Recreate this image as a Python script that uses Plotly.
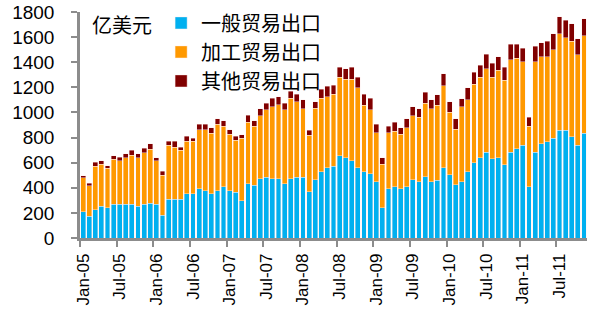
import plotly.graph_objects as go
import pandas as pd

months = pd.date_range("2005-01-01", "2011-11-01", freq="MS").strftime("%Y-%m").tolist()

general = [210, 172, 225, 252, 239, 268, 268, 268, 268, 252, 268, 276,
           268, 180, 308, 308, 308, 351, 351, 391, 377, 351, 377, 407,
           377, 364, 295, 433, 420, 473, 484, 473, 473, 433, 473, 484,
           484, 367, 465, 529, 561, 572, 657, 641, 615, 561, 527, 513,
           447, 239, 391, 407, 391, 407, 465, 449, 487, 447, 460, 561,
           505, 423, 447, 529, 599, 641, 684, 631, 641, 585, 684, 711,
           737, 407, 684, 751, 767, 793, 860, 860, 807, 737, 836]
processing = [270, 246, 347, 336, 317, 360, 347, 373, 392, 389, 413, 429,
              347, 320, 429, 416, 389, 418, 418, 472, 486, 485, 528, 485,
              448, 416, 501, 488, 472, 499, 536, 574, 587, 587, 640, 600,
              547, 453, 568, 584, 566, 573, 624, 624, 650, 635, 530, 507,
              392, 349, 448, 445, 434, 472, 510, 512, 586, 584, 597, 651,
              496, 442, 597, 571, 624, 640, 664, 650, 696, 670, 736, 722,
              667, 485, 720, 693, 677, 707, 765, 736, 762, 723, 776]
other = [15, 18, 32, 29, 19, 29, 29, 32, 37, 32, 35, 46,
         26, 32, 32, 45, 27, 40, 27, 45, 45, 43, 43, 43,
         38, 29, 27, 56, 40, 59, 53, 66, 67, 53, 56, 59,
         69, 40, 54, 72, 80, 70, 80, 83, 96, 83, 86, 93,
         66, 53, 53, 69, 54, 69, 69, 67, 86, 69, 83, 96,
         86, 83, 67, 96, 98, 94, 115, 110, 107, 104, 123, 110,
         109, 69, 125, 112, 125, 125, 136, 139, 139, 125, 136]

series_names = ["一般贸易出口", "加工贸易出口", "其他贸易出口"]
series_colors = ["#00B0F0", "#FF9900", "#800000"]
tick_labels = ["Jan-05", "Jul-05", "Jan-06", "Jul-06", "Jan-07", "Jul-07", "Jan-08",
               "Jul-08", "Jan-09", "Jul-09", "Jan-10", "Jul-10", "Jan-11", "Jul-11"]
unit_label = "亿美元"

idx = list(range(len(months)))
tick_pos = [months.index(m) for m in months if m.endswith("-01") or m.endswith("-07")]
boundary_pos = [p - 0.5 for p in tick_pos]

fig = go.Figure()
for name, vals, col in zip(series_names, [general, processing, other], series_colors):
    fig.add_trace(go.Bar(x=idx, y=vals, name=name, marker_color=col,
                         marker_line=dict(color="rgba(255,235,235,0.7)", width=0.6)))

axis_col = "#8c8c8c"
fig.update_layout(
    width=600, height=328,
    barmode="stack", bargap=0.2,
    plot_bgcolor="white", paper_bgcolor="white",
    margin=dict(l=80, r=13, t=12, b=90, autoexpand=False),
    font=dict(family="Liberation Sans, Arial, Noto Sans CJK SC", size=18, color="#000"),
    showlegend=True,
    legend=dict(x=0.16, y=1.038, xanchor="left", yanchor="top",
                traceorder="normal", bgcolor="rgba(0,0,0,0)",
                font=dict(family="Noto Sans CJK SC", size=20, color="#000"),
                tracegroupgap=0, itemwidth=30),
    annotations=[dict(text=unit_label, xref="paper", yref="paper", x=0.02, y=0.945,
                      xanchor="left", yanchor="middle", showarrow=False,
                      font=dict(family="Noto Sans CJK SC", size=20, color="#000"))],
)
fig.update_xaxes(range=[-0.5, len(months) - 0.5], tickvals=tick_pos, ticktext=tick_labels,
                 tickangle=-90, ticks="", showgrid=False, zeroline=False,
                 showline=True, linecolor=axis_col, linewidth=2.5,
                 tickfont=dict(size=17), ticklabelstandoff=6,
                 minor=dict(tickvals=boundary_pos, ticks="outside", ticklen=6,
                            tickcolor=axis_col, tickwidth=2, showgrid=False))
fig.update_yaxes(range=[0, 1800], dtick=200, ticks="outside", ticklen=6,
                 tickcolor=axis_col, tickwidth=2, showgrid=False, zeroline=False,
                 showline=True, linecolor=axis_col, linewidth=2.5,
                 tickfont=dict(size=19), ticklabelstandoff=13)

fig.write_html("out.html")
